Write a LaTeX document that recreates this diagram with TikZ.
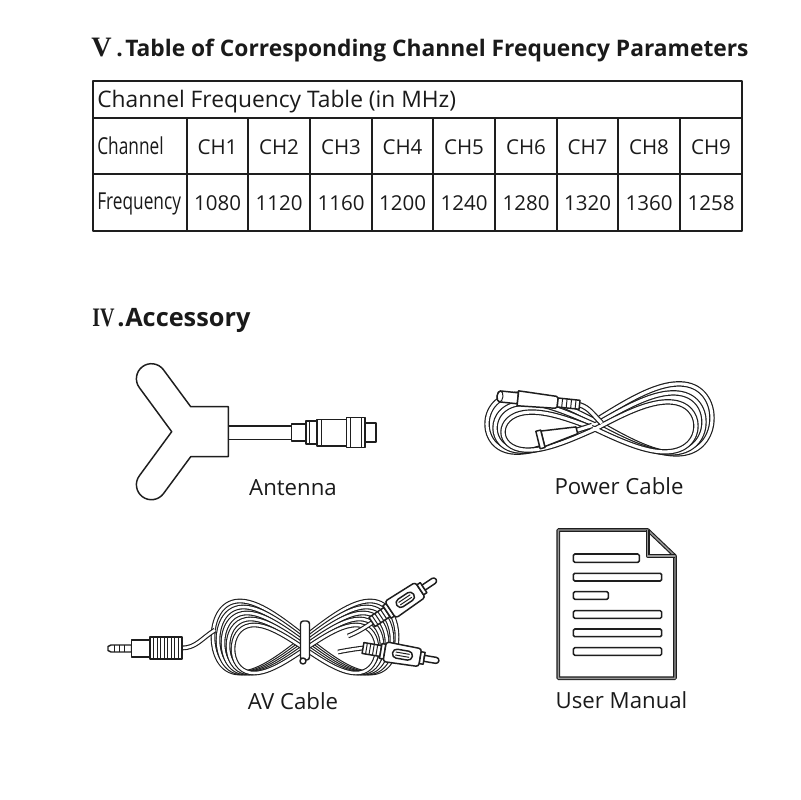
\documentclass[tikz,border=0pt]{standalone}
\usepackage{fontspec}
\setmainfont{Open Sans}
\newfontfamily\romfont{Liberation Serif}
\usetikzlibrary{calc}
\definecolor{ink}{HTML}{1e1e1e}
\definecolor{txt}{HTML}{1a1a1a}
\tikzset{
  ln/.style={draw=ink, line width=1.05pt},
  thin/.style={draw=ink, line width=0.7pt},
  tbl/.style={draw=ink, line width=1.3pt},
  tube/.style={draw=ink, line width=0.85pt, double=white, double distance=2.2pt},
  avtube/.style={draw=ink, line width=0.8pt, double=white, double distance=1.8pt},
  page/.style={draw=ink, line width=0.8pt, double=black!40, double distance=1pt},
  bar/.style={draw=ink, line width=1.1pt, fill=white, rounded corners=1pt},
  tx/.style={inner sep=0pt, text=txt},
  hdr/.style={tx, anchor=base west, font=\fontsize{16.2}{19}\selectfont},
  cell/.style={tx, anchor=base, font=\fontsize{14.6}{17}\selectfont},
  cond/.style={tx, anchor=base west, font=\fontsize{16.6}{19}\selectfont},
  lbl/.style={tx, anchor=base, font=\fontsize{15.8}{18}\selectfont},
  ttl/.style={tx, anchor=base west, font=\bfseries\fontsize{16.2}{20}\selectfont},
  rca/.pic={
    \draw[ln, fill=white] (0,-5.5) rectangle (18,5.5);
    \foreach \u in {3.5,7,10.5,14} \draw[thin] (\u,-5.5) -- (\u,5.5);
    \draw[ln, fill=white] (18,-7.5) rectangle (22,7.5);
    \draw[ln, fill=white, rounded corners=2pt] (22,-10) -- (58,-9) -- (58,9) -- (22,10) -- cycle;
    \draw[ln, fill=white, rounded corners=3pt] (30,-4.5) rectangle (50,4.5);
    \draw[thin] (33,-1.5) -- (47,-1.5);
    \draw[thin] (33,1.5) -- (47,1.5);
    \draw[ln, fill=white] (58,-6) rectangle (62,6);
    \draw[ln, fill=white] (62,-3) -- (74,-3) arc[start angle=-90, end angle=90, radius=3] -- (62,3) -- cycle;
  }
}
\begin{document}
\begin{tikzpicture}[x=0.025cm, y=-0.025cm, line join=round]
\useasboundingbox (0,0) rectangle (800,800);

% ---------- Title ----------
\node[tx, anchor=base west, font=\romfont\bfseries\fontsize{20}{22}\selectfont] (vnum) at (91,56.7) {V};
\node[ttl] (vdot) at (116,56.7) {.};
\node[ttl] (title) at (125,56.7) {Table of Corresponding Channel Frequency Parameters};

% ---------- Table ----------
\draw[tbl] (93,81) rectangle (742,231);
\draw[tbl] (93,118) -- (742,118);
\draw[tbl] (93,174) -- (742,174);
\foreach \x in {187,248,310,372,433,495,557,618,680} \draw[tbl] (\x,118) -- (\x,231);

\node[hdr] (hdr) at (97,108) {Channel Frequency Table (in MHz)};
\node[cond] (chlab) at (97,155) {\scalebox{0.74}[1]{Channel}};
\node[cond] (frlab) at (97,209.5) {\scalebox{0.74}[1]{Frequency}};
\foreach \c/\n/\f [count=\i] in {217.5/CH1/1080, 279/CH2/1120, 341/CH3/1160, 402.5/CH4/1200, 464/CH5/1240, 526/CH6/1280, 587.5/CH7/1320, 649/CH8/1360, 711/CH9/1258}{
  \node[cell] (ch\i) at (\c,154.5) {\n};
  \node[cell] (fq\i) at (\c,210) {\f};
}

% ---------- Accessory heading ----------
\node[tx, anchor=base west, font=\romfont\bfseries\fontsize{19}{21}\selectfont] (ivnum) at (92,326) {\scalebox{0.75}[1]{IV}};
\node[ttl, font=\bfseries\fontsize{18}{20}\selectfont] (ivdot) at (117,326) {.};
\node[ttl, font=\bfseries\fontsize{18}{20}\selectfont] (acc) at (125,326) {Accessory};

% ---------- Antenna ----------
\draw[ln] (190.7,406.7) -- (163.4,369.7) arc[start angle=-36.87, end angle=-216.87, radius=15]
  -- (171.7,431.7) -- (139.4,475.7) arc[start angle=216.87, end angle=36.87, radius=15]
  -- (190.7,456.7) -- (228.3,456.7) -- (228.3,406.7) -- cycle;
\draw[ln] (228.3,426) -- (291.7,426);
\draw[ln] (228.3,439.3) -- (291.7,439.3);
\draw[ln] (291.7,424) rectangle (306,441);
\draw[ln] (306,421) rectangle (317,444);
\draw[thin] (309,421) -- (309,444);
\draw[ln] (317,419.3) rectangle (346.5,446);
\draw[thin] (321.5,419.3) -- (321.5,446);
\draw[ln] (346.5,417.3) rectangle (365,447.3);
\draw[thin] (350.5,417.3) -- (350.5,447.3);
\draw[thin] (361,417.3) -- (361,447.3);
\draw[ln] (365,423) rectangle (376,442);
\node[lbl] (antenna) at (293,495.5) {Antenna};

% ---------- Power cable ----------
\foreach \ar/\al/\br/\bl/\cy in {117/108/35/29/421, 109/100/30/24/425, 101/92/25/19/429}{
  \draw[tube] plot[smooth cycle, domain=0:355, samples=72, variable=\t]
    ({595 + cos(\t)*ifthenelse(cos(\t)>0,\ar,\al)},
     {\cy - 3*cos(\t) + sin(2*\t)*ifthenelse(cos(\t)>0,\br,\bl)});
}
\begin{scope}[shift={(496,396)}, rotate=-6]
  \draw[tube] (84,0) .. controls (94,2) and (98,8) .. (108,16);
  \draw[ln, fill=white] (4,-5.5) -- (22,-5.5) -- (22,5.5) -- (4,5.5) arc[start angle=90, end angle=270, x radius=3, y radius=5.5] -- cycle;
  \draw[thin] (4,0) ellipse[x radius=3, y radius=5.5];
  \draw[ln, fill=white] (22,-7.5) -- (60,-6) -- (62,-4.5) -- (62,4.5) -- (60,6) -- (22,7.5) -- cycle;
  \draw[ln, fill=white] (62,-4.5) rectangle (84,4.5);
  \foreach \u in {66.5,71,75.5,80} \draw[thin] (\u,-4.5) -- (\u,4.5);
\end{scope}
\begin{scope}[shift={(538,440)}, rotate=14]
  \draw[tube] (40,0) -- (56,-1);
  \draw[ln, fill=white] (5,-8) -- (40,-3.5) -- (40,3.5) -- (5,8) -- cycle;
  \draw[ln, fill=white] (0,-9) rectangle (5,9);
\end{scope}
\node[lbl] (power) at (619,494.5) {Power Cable};

% ---------- AV cable ----------
\foreach \A/\B/\cy in {92/72/637, 87/66/640, 82/60/643, 77/54/646, 72/48/649}{
  \draw[avtube] plot[smooth cycle, domain=0:355, samples=72, variable=\t]
    ({305 + \A*cos(\t)}, {\cy + 0.5*\B*sin(2*\t)});
}
\draw[avtube] (182,648) .. controls (196,648) and (202,638) .. (215,630);
\draw[avtube] (348,636) .. controls (358,632) and (364,628) .. (373,622);
\draw[avtube] (338,652) .. controls (348,650) and (355,649) .. (363,648);
\draw[ln, fill=white, rounded corners=2pt] (300.5,621) rectangle (309.5,660);
\draw[ln, fill=white] (303,661) circle[radius=3];
% 3.5 mm jack
\draw[ln, fill=white] (108,646.5) -- (111,645) -- (131.7,645) -- (131.7,652) -- (111,652) -- (108,650.5) -- cycle;
\foreach \x in {114,119,124} \draw[thin] (\x,645) -- (\x,652);
\draw[ln, fill=white] (131.7,640) rectangle (150,657);
\draw[ln, fill=white] (150,637) rectangle (182,659);
\foreach \x in {153.5,157,160.5,164,167.5,171,174.5,178} \draw[thin] (\x,637) -- (\x,659);
% RCA plugs
\pic[rotate=33.7] (rcaA) at (372,622) {rca};
\pic[rotate=-9.6] (rcaB) at (363,648) {rca};
\node[lbl] (av) at (293,709.5) {AV Cable};

% ---------- User manual ----------
\draw[page, fill=white] (558.3,530) -- (647.7,530) -- (675,556) -- (675,678.3) -- (558.3,678.3) -- cycle;
\draw[page] (647.7,530) -- (647.7,556) -- (675,556);
\draw[bar] (573.3,554) rectangle (639.3,562.3);
\draw[bar] (573.3,573.3) rectangle (661.7,581);
\draw[bar] (573.3,591.7) rectangle (608.3,599.3);
\draw[bar] (573.3,610.7) rectangle (661.7,618.3);
\draw[bar] (573.3,629) rectangle (661.7,636.7);
\draw[bar] (573.3,647.7) rectangle (661.7,655.3);
\node[lbl] (manual) at (621.5,708.5) {User Manual};
\end{tikzpicture}
\end{document}
